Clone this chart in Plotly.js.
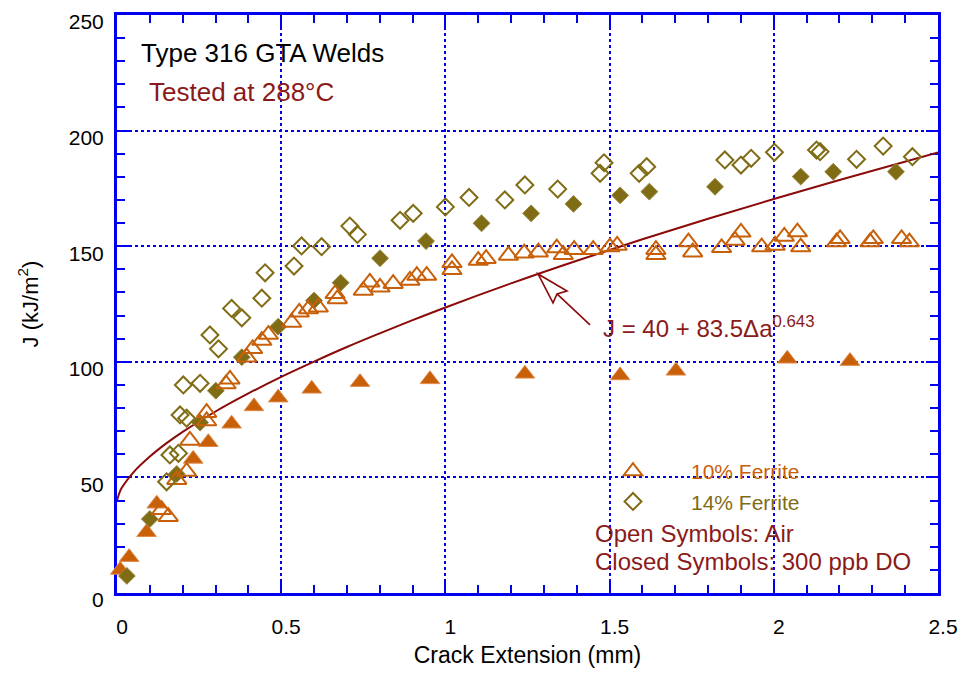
<!DOCTYPE html>
<html>
<head>
<meta charset="utf-8">
<script src="https://cdn.plot.ly/plotly-3.0.1.min.js"></script>
<style>
html,body{margin:0;padding:0;background:#fff;}
#chart{width:968px;height:673px;}
</style>
</head>
<body>
<div id="chart"></div>
<script>
// ---- Data ----
// 10% Ferrite, tested in air (open triangles)
var f10AirX = [0.136,0.156,0.182,0.212,0.222,0.273,0.273,0.332,0.344,0.395,0.413,0.441,0.461,0.532,0.555,0.583,0.613,0.664,0.671,0.750,0.770,0.801,0.841,0.892,0.913,0.943,1.020,1.020,1.100,1.124,1.192,1.240,1.283,1.339,1.359,1.392,1.450,1.501,1.523,1.641,1.641,1.740,1.753,1.841,1.882,1.900,1.963,2.004,2.032,2.072,2.082,2.191,2.202,2.293,2.303,2.389,2.413,2.501];
var f10AirJ = [36,33,49,52.5,66,78,74.4,90.4,92.4,102,105.6,109.2,111.8,117,121.4,122.8,123.6,129.4,127.2,130.8,134.4,132.2,133.8,135.2,137.3,137.3,142.8,139.8,143.8,144.6,146,147,147.4,149.2,146.3,148.5,148.5,149.6,150.3,148.5,146.3,151.8,147.4,149.3,152.5,156,149.6,150.3,154.2,156.1,149.6,151.8,153.2,151.8,153.2,153.2,151.8,150.3];
// 10% Ferrite, 300 ppb DO (closed triangles)
var f10DoX = [0.010,0.037,0.090,0.121,0.232,0.278,0.349,0.417,0.491,0.593,0.740,0.953,1.242,1.532,1.702,2.041,2.232,2.501];
var f10DoJ = [10,15.5,26.3,38.6,58,65.2,73.2,80.7,84.5,88.3,91.2,92.4,94.8,94.1,96.1,101.3,100.3,99.4];
// 14% Ferrite, tested in air (open diamonds)
var f14AirX = [0.151,0.161,0.187,0.192,0.212,0.202,0.253,0.283,0.309,0.349,0.380,0.441,0.451,0.539,0.562,0.623,0.709,0.732,0.862,0.902,1.000,1.072,1.181,1.242,1.342,1.471,1.483,1.590,1.613,1.851,1.900,1.931,2.002,2.130,2.141,2.252,2.333,2.422];
var f14AirJ = [48.1,59.7,60.4,77,75.6,90,90.7,111.6,105.6,123.1,119,127.5,138.5,141.4,150.1,149.8,158.7,155.1,161.2,164.2,167,171.1,170,176.5,174.7,181.5,186.1,181.5,184.4,187.3,185.1,188,190.6,191.6,190.9,187.6,193.3,188.7];
// 14% Ferrite, 300 ppb DO (closed diamonds)
var f14DoX = [0.030,0.100,0.182,0.253,0.301,0.380,0.491,0.600,0.681,0.801,0.941,1.110,1.261,1.390,1.532,1.621,1.821,2.082,2.181,2.372];
var f14DoJ = [7.4,32,51.5,73.7,87.5,102,115.2,126.5,134.2,144.8,152.2,159.9,164.2,168.3,172,173.6,175.7,180.1,182.2,182.2];
// Fitted J-R curve, J = 40 + 83.5*da^0.643 (sampled)
var fitX = [0,0.01,0.02,0.05,0.1,0.15,0.2,0.3,0.4,0.5,0.6,0.7,0.8,0.9,1.0,1.2,1.4,1.6,1.8,2.0,2.2,2.5];
var fitJ = [40,44.3,46.7,52.2,59.0,64.7,69.7,78.5,86.3,93.5,100.1,106.4,112.3,118.0,123.5,133.9,143.7,153.0,161.9,170.4,178.6,190.5];
// Axis ticks
var xTicks = [0,0.5,1,1.5,2,2.5];
var xTickText = ['0','0.5','1','1.5','2','2.5'];
var yTicks = [0,50,100,150,200,250];
var yTickText = ['0','50','100','150','200','250'];
// Arrow target on the fit curve
var arrowX = [1.282];
var arrowJ = [138];

// ---- Styles ----
var ORANGE = '#c8600a';
var OLIVE = '#7f6c15';
var DRED = '#8b1a1a';
var BLUE = '#0000ee';
var FONT = 'Liberation Sans, Arial, Helvetica, sans-serif';

var traces = [
  {x: fitX, y: fitJ, mode: 'lines', line: {color: '#8b0a0a', width: 2, shape: 'spline'}, showlegend: false, hoverinfo: 'skip'},
  {x: f10DoX, y: f10DoJ, mode: 'markers', cliponaxis: false, showlegend: false,
   marker: {symbol: 'triangle-up', size: 17, color: ORANGE, line: {color: '#e08a4a', width: 1}}},
  {x: f14DoX, y: f14DoJ, mode: 'markers', cliponaxis: false, showlegend: false,
   marker: {symbol: 'diamond', size: 13, color: OLIVE, line: {color: '#9a8a40', width: 1}}},
  {x: f10AirX, y: f10AirJ, mode: 'markers', cliponaxis: false, name: '<span style="color:' + ORANGE + '">10% Ferrite</span>',
   marker: {symbol: 'triangle-up-open', size: 17, color: ORANGE, line: {color: ORANGE, width: 2}}},
  {x: f14AirX, y: f14AirJ, mode: 'markers', cliponaxis: false, name: '<span style="color:' + OLIVE + '">14% Ferrite</span>',
   marker: {symbol: 'diamond-open', size: 13, color: OLIVE, line: {color: OLIVE, width: 2}}}
];

function px2paperX(px){ return (px - 117) / 821; }
function px2paperY(py){ return (593 - py) / 578; }

var axisCommon = {
  showline: true, linecolor: BLUE, linewidth: 3, mirror: 'allticks',
  ticks: 'inside', ticklen: 12, tickwidth: 2, tickcolor: BLUE,
  showgrid: true, gridcolor: BLUE, gridwidth: 2, griddash: 'dot',
  zeroline: false, layer: 'below traces', ticklabeloverflow: 'allow',
  tickfont: {family: FONT, size: 21, color: '#000'}
};

var layout = {
  width: 968, height: 673,
  margin: {l: 117, r: 30, t: 15, b: 80, pad: 0},
  paper_bgcolor: '#fff', plot_bgcolor: '#fff',
  font: {family: FONT, color: '#000'},
  xaxis: Object.assign({}, axisCommon, {
    range: [0, 2.5], tickmode: 'array', tickvals: xTicks, ticktext: xTickText,
    minor: {dtick: 0.1, ticks: 'inside', ticklen: 8, tickwidth: 2, tickcolor: BLUE, showgrid: false},
    ticklabelstandoff: 13, ticklabelshift: 5,
    title: {text: 'Crack Extension (mm)', font: {family: FONT, size: 23, color: '#000'}, standoff: 10}
  }),
  yaxis: Object.assign({}, axisCommon, {
    range: [0, 250], tickmode: 'array', tickvals: yTicks, ticktext: yTickText,
    minor: {dtick: 10, ticks: 'inside', ticklen: 8, tickwidth: 2, tickcolor: BLUE, showgrid: false},
    ticklabelstandoff: 6, ticklabelshift: 7,
    title: {text: 'J (kJ/m<sup>2</sup>)', font: {family: FONT, size: 22, color: '#000'}, standoff: 25}
  }),
  showlegend: true,
  legend: {
    x: px2paperX(575), xanchor: 'left', y: px2paperY(451), yanchor: 'top',
    bgcolor: 'rgba(0,0,0,0)', borderwidth: 0, itemwidth: 106,
    font: {family: FONT, size: 21}, tracegroupgap: 0
  },
  shapes: [
    {type: 'rect', xref: 'paper', yref: 'paper', layer: 'between',
     x0: px2paperX(565), x1: px2paperX(816), y0: 0, y1: px2paperY(437),
     fillcolor: '#fff', line: {width: 0}},
    {type: 'rect', xref: 'paper', yref: 'paper', layer: 'between',
     x0: px2paperX(595), x1: px2paperX(830), y0: px2paperY(348), y1: px2paperY(298),
     fillcolor: '#fff', line: {width: 0}},
    {type: 'path', xref: 'x', yref: 'y', xsizemode: 'pixel', ysizemode: 'pixel',
     xanchor: arrowX[0], yanchor: arrowJ[0],
     path: 'M0,0 L15,-29 L19,-20 L29,-17 Z M19,-20 L52,-51',
     fillcolor: '#fff', line: {color: '#8b0a0a', width: 1.6}}
  ],
  annotations: [
    {xref: 'paper', yref: 'paper', x: px2paperX(139), y: px2paperY(53), xanchor: 'left', yanchor: 'middle',
     text: 'Type 316 GTA Welds', showarrow: false, font: {family: FONT, size: 26, color: '#000'}},
    {xref: 'paper', yref: 'paper', x: px2paperX(147), y: px2paperY(92), xanchor: 'left', yanchor: 'middle',
     text: 'Tested at 288°C', showarrow: false, font: {family: FONT, size: 26, color: DRED}},
    {xref: 'paper', yref: 'paper', x: px2paperX(601), y: px2paperY(327), xanchor: 'left', yanchor: 'middle',
     text: 'J = 40 + 83.5Δa<sup>0.643</sup>', showarrow: false, font: {family: FONT, size: 24, color: DRED}},
    {xref: 'paper', yref: 'paper', x: px2paperX(593), y: px2paperY(533), xanchor: 'left', yanchor: 'middle',
     text: 'Open Symbols: Air', showarrow: false, font: {family: FONT, size: 24, color: DRED}},
    {xref: 'paper', yref: 'paper', x: px2paperX(593), y: px2paperY(561), xanchor: 'left', yanchor: 'middle',
     text: 'Closed Symbols: 300 ppb DO', showarrow: false, font: {family: FONT, size: 24, color: DRED}}
  ]
};

Plotly.newPlot('chart', traces, layout, {displayModeBar: false, staticPlot: true});
</script>
</body>
</html>
